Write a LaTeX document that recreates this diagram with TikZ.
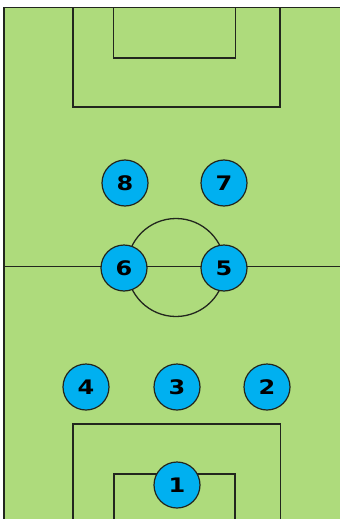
\documentclass[tikz,border=0pt]{standalone}
\usepackage{fontspec}
\setmainfont{DejaVu Sans}
\usepackage{graphicx}
\definecolor{pitch}{RGB}{174,219,124}
\definecolor{player}{RGB}{0,176,240}
\definecolor{linec}{RGB}{34,38,30}
\tikzset{
  fieldline/.style={draw=linec, line width=1.3pt},
  playerdot/.style={circle, draw=linec, line width=1.2pt, fill=player, minimum size=46pt, inner sep=0pt,
    font=\bfseries\fontsize{20}{20}\selectfont},
}
\newcommand{\wnum}[1]{\scalebox{1.2}[1]{#1}}
\begin{document}
\begin{tikzpicture}[x=1pt,y=-1pt]
\useasboundingbox (0,0) rectangle (340,519);
\fill[white] (0,0) rectangle (340,519);
\fill[pitch] (4,7.5) rectangle (340,519);
% outer lines
\draw[fieldline, line width=1.7pt] (4,519) -- (4,7.5) -- (340,7.5);
% halfway line
\draw[fieldline] (4,266.5) -- (340,266.5);
% centre circle
\draw[fieldline] (176,267.5) circle (49);
% top boxes
\draw[fieldline] (73,7.5) rectangle (280,107);
\draw[fieldline] (113.5,7.5) rectangle (235.5,58);
% bottom boxes
\draw[fieldline] (73,519) -- (73,424) -- (280.5,424) -- (280.5,519);
\draw[fieldline] (114,519) -- (114,474) -- (235,474) -- (235,519);
% players
\node[playerdot] (p8) at (125,183) {\wnum{8}};
\node[playerdot] (p7) at (224,183) {\wnum{7}};
\node[playerdot] (p6) at (124,268) {\wnum{6}};
\node[playerdot] (p5) at (224,268) {\wnum{5}};
\node[playerdot] (p4) at (86,387) {\wnum{4}};
\node[playerdot] (p3) at (177,387) {\wnum{3}};
\node[playerdot] (p2) at (267,387) {\wnum{2}};
\node[playerdot] (p1) at (177,485) {\wnum{1}};
\end{tikzpicture}
\end{document}
